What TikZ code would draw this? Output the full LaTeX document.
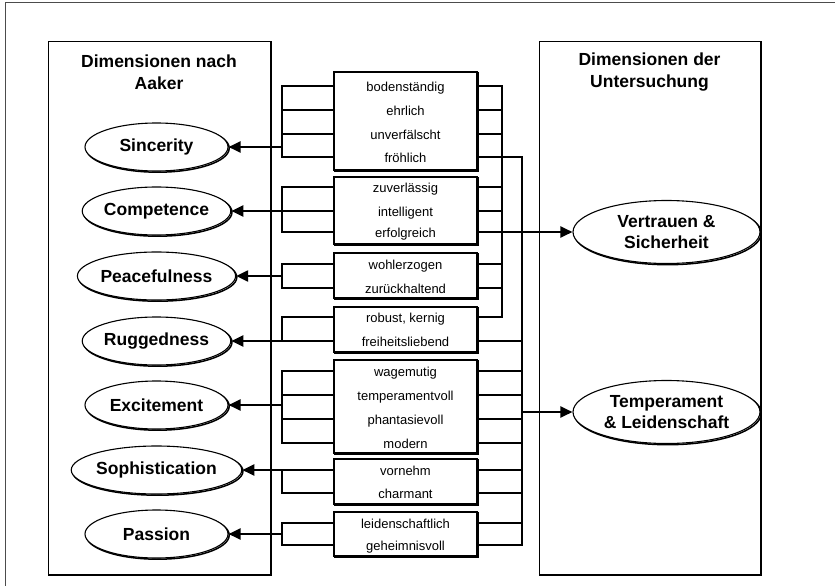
\documentclass[tikz,border=0pt]{standalone}
\usepackage{fontspec}
\setmainfont{Liberation Sans}
\usetikzlibrary{arrows.meta,shapes.geometric}
\begin{document}
\begin{tikzpicture}[x=1pt,y=-1pt,
  shadowed/.style={fill=white, draw=black, line width=1.1pt,
    preaction={draw=black, line width=1.5pt, transform canvas={shift={(1.2pt,-1.2pt)}}}},
  panel/.style={shadowed, rectangle, inner sep=0pt, line width=0.9pt},
  dim/.style={shadowed, ellipse, inner sep=0pt, align=center,
    font=\fontsize{17.5}{21}\selectfont\bfseries},
  aakerdim/.style={dim, minimum width=143pt, minimum height=48pt},
  studydim/.style={dim, minimum width=187pt, minimum height=63pt},
  adjbox/.style={shadowed, rectangle, inner sep=0pt, minimum width=143pt},
  item/.style={inner sep=0pt, minimum width=143pt, text height=12pt, text depth=2pt,
    font=\fontsize{13}{15}\selectfont},
  heading/.style={align=center, font=\fontsize{17.5}{22}\selectfont\bfseries},
  wire/.style={line width=2.2pt},
  link/.style={wire, -{Triangle[length=12pt,width=11pt]}}]

\useasboundingbox (0,0) rectangle (835,586);

% outer frame (only the top and left edges fall inside the page)
\draw[gray!60!black, line width=0.8pt] (5,586) |- (835,2.5);

% the two panels and their headings
\node[panel, minimum width=222pt, minimum height=533pt] (lp) at (159,307.5) {};
\node[panel, minimum width=221pt, minimum height=533pt] (rp) at (649.5,307.5) {};
\node[heading] (lt) at (159,72) {Dimensionen nach\\Aaker};
\node[heading] (rt) at (649.5,72) {Dimensionen der\\Untersuchung};

% Aaker's dimensions
\node[aakerdim] (sinc)  at (156.5,147) {Sincerity};
\node[aakerdim] (comp)  at (156.5,211) {Competence};
\node[aakerdim] (peace) at (156.5,276) {Peacefulness};
\node[aakerdim] (rugg)  at (156.5,341) {Ruggedness};
\node[aakerdim] (exc)   at (156.5,405) {Excitement};
\node[aakerdim] (soph)  at (156.5,470) {Sophistication};
\node[aakerdim] (pass)  at (156.5,534) {Passion};

% dimensions of the study
\node[studydim] (vert) at (666.5,232) {Vertrauen \&\\Sicherheit};
\node[studydim] (temp) at (666.5,412) {Temperament\\\& Leidenschaft};

% adjective boxes
\node[adjbox, minimum height=98pt] (b1) at (405.5,121) {};
\node[item] (b1r1) at (405.5,86)  {bodenständig};
\node[item] (b1r2) at (405.5,110) {ehrlich};
\node[item] (b1r3) at (405.5,134) {unverfälscht};
\node[item] (b1r4) at (405.5,157) {fröhlich};

\node[adjbox, minimum height=67pt] (b2) at (405.5,210.5) {};
\node[item] (b2r1) at (405.5,187) {zuverlässig};
\node[item] (b2r2) at (405.5,211) {intelligent};
\node[item] (b2r3) at (405.5,232) {erfolgreich};

\node[adjbox, minimum height=45pt] (b3) at (405.5,275.5) {};
\node[item] (b3r1) at (405.5,264) {wohlerzogen};
\node[item] (b3r2) at (405.5,288) {zurückhaltend};

\node[adjbox, minimum height=45pt] (b4) at (405.5,329.5) {};
\node[item] (b4r1) at (405.5,317) {robust, kernig};
\node[item] (b4r2) at (405.5,341) {freiheitsliebend};

\node[adjbox, minimum height=93pt] (b5) at (405.5,406.5) {};
\node[item] (b5r1) at (405.5,371) {wagemutig};
\node[item] (b5r2) at (405.5,395) {temperamentvoll};
\node[item] (b5r3) at (405.5,419) {phantasievoll};
\node[item] (b5r4) at (405.5,443) {modern};

\node[adjbox, minimum height=45pt] (b6) at (405.5,481.5) {};
\node[item] (b6r1) at (405.5,470) {vornehm};
\node[item] (b6r2) at (405.5,493) {charmant};

\node[adjbox, minimum height=44pt] (b7) at (405.5,534) {};
\node[item] (b7r1) at (405.5,523) {leidenschaftlich};
\node[item] (b7r2) at (405.5,545) {geheimnisvoll};

% bracket and bus positions
\coordinate (L) at (282,0);
\coordinate (A) at (502,0);
\coordinate (B) at (522,0);

% left brackets: adjectives -> Aaker dimensions
\draw[wire] (b1r1.west) -| (L |- b1r4) -- (b1r4.west);
\draw[wire] (b1r2.west) -- (L |- b1r2);
\draw[wire] (b1r3.west) -- (L |- b1r3);
\draw[link] (L |- sinc) -- (sinc.east);

\draw[wire] (b2r1.west) -| (L |- b2r3) -- (b2r3.west);
\draw[link] (b2r2.west) -- (comp.east);

\draw[wire] (b3r1.west) -| (L |- b3r2) -- (b3r2.west);
\draw[link] (L |- peace) -- (peace.east);

\draw[wire] (b4r1.west) -| (L |- b4r2);
\draw[link] (b4r2.west) -- (rugg.east);

\draw[wire] (b5r1.west) -| (L |- b5r4) -- (b5r4.west);
\draw[wire] (b5r2.west) -- (L |- b5r2);
\draw[wire] (b5r3.west) -- (L |- b5r3);
\draw[link] (L |- exc) -- (exc.east);

\draw[wire] (b6r2.west) -| (L |- b6r1);
\draw[link] (b6r1.west) -- (soph.east);

\draw[wire] (b7r1.west) -| (L |- b7r2) -- (b7r2.west);
\draw[link] (L |- pass) -- (pass.east);

% right bus A: adjectives -> Vertrauen & Sicherheit
\draw[wire] (b1r1.east) -| (A |- b4r1) -- (b4r1.east);
\draw[wire] (b1r2.east) -- (A |- b1r2);
\draw[wire] (b1r3.east) -- (A |- b1r3);
\draw[wire] (b2r1.east) -- (A |- b2r1);
\draw[wire] (b2r2.east) -- (A |- b2r2);
\draw[wire] (b3r1.east) -- (A |- b3r1);
\draw[wire] (b3r2.east) -- (A |- b3r2);
\draw[link] (b2r3.east) -- (vert.west);

% right bus B: adjectives -> Temperament & Leidenschaft
\draw[wire] (b1r4.east) -| (B |- b7r2) -- (b7r2.east);
\draw[wire] (b4r2.east) -- (B |- b4r2);
\draw[wire] (b5r1.east) -- (B |- b5r1);
\draw[wire] (b5r2.east) -- (B |- b5r2);
\draw[wire] (b5r3.east) -- (B |- b5r3);
\draw[wire] (b5r4.east) -- (B |- b5r4);
\draw[wire] (b6r1.east) -- (B |- b6r1);
\draw[wire] (b6r2.east) -- (B |- b6r2);
\draw[wire] (b7r1.east) -- (B |- b7r1);
\draw[link] (B |- temp) -- (temp.west);

\end{tikzpicture}
\end{document}
